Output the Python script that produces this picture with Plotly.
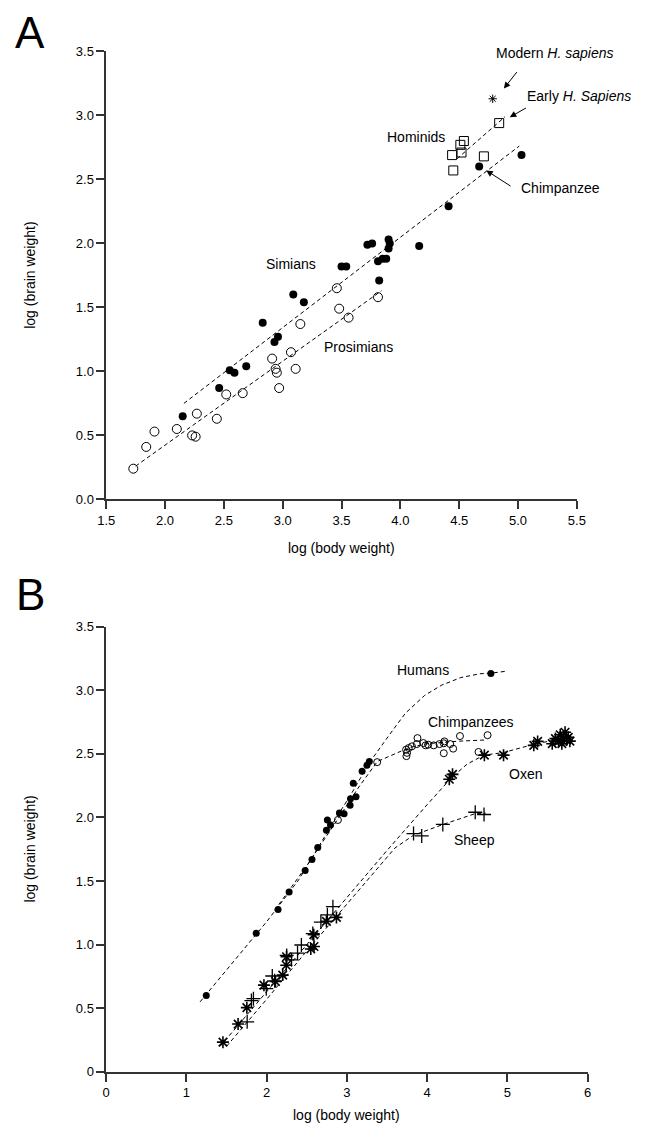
import plotly.graph_objects as go

FONT = "Liberation Sans, Arial, Helvetica, sans-serif"

# ---------------- Panel A data ----------------
pros_x = [1.73, 1.84, 1.91, 2.10, 2.23, 2.26, 2.27, 2.44, 2.52, 2.66, 2.91, 2.94, 2.95, 2.97,
          3.07, 3.11, 3.15, 3.46, 3.48, 3.56, 3.81]
pros_y = [0.24, 0.41, 0.53, 0.55, 0.50, 0.49, 0.67, 0.63, 0.82, 0.83, 1.10, 1.02, 0.99, 0.87,
          1.15, 1.02, 1.37, 1.65, 1.49, 1.42, 1.58]

sim_x = [2.15, 2.46, 2.55, 2.59, 2.69, 2.83, 2.93, 2.96, 3.09, 3.18, 3.50, 3.54, 3.72, 3.76,
         3.81, 3.85, 3.88, 3.90, 3.91, 3.90, 3.82, 4.16, 4.41, 4.67, 5.03]
sim_y = [0.65, 0.87, 1.01, 0.99, 1.04, 1.38, 1.23, 1.27, 1.60, 1.54, 1.82, 1.82, 1.99, 2.00,
         1.86, 1.88, 1.88, 2.03, 2.00, 1.96, 1.71, 1.98, 2.29, 2.60, 2.69]

hom_x = [4.84, 4.54, 4.51, 4.52, 4.44, 4.71, 4.45]
hom_y = [2.94, 2.80, 2.77, 2.71, 2.69, 2.68, 2.57]

modern_x = [4.785]
modern_y = [3.13]

sim_line_x = [2.16, 5.01]
sim_line_y = [0.75, 2.76]
pros_line_x = [1.75, 3.84]
pros_line_y = [0.26, 1.63]
hom_line_x = [4.48, 4.89]
hom_line_y = [2.66, 2.99]

a_xticks = [1.5, 2.0, 2.5, 3.0, 3.5, 4.0, 4.5, 5.0, 5.5]
a_yticks = [0.0, 0.5, 1.0, 1.5, 2.0, 2.5, 3.0, 3.5]
a_xticktext = ["1.5", "2.0", "2.5", "3.0", "3.5", "4.0", "4.5", "5.0", "5.5"]
a_yticktext = ["0.0", "0.5", "1.0", "1.5", "2.0", "2.5", "3.0", "3.5"]

# ---------------- Panel B data ----------------
hum_x = [1.247, 1.87, 2.142, 2.28, 2.48, 2.565, 2.637, 2.745, 2.757, 2.796, 2.907, 2.965,
         3.04, 3.045, 3.114, 3.08, 3.19, 3.25, 3.28, 4.795]
hum_y = [0.599, 1.09, 1.276, 1.414, 1.583, 1.67, 1.764, 1.90, 1.98, 1.94, 2.035, 2.029,
         2.095, 2.147, 2.163, 2.268, 2.363, 2.41, 2.44, 3.132]

chimp_x = [2.888, 3.378, 3.738, 3.75, 3.742, 3.771, 3.811, 3.872, 3.88, 3.953, 3.981, 4.014,
           4.082, 4.155, 4.208, 4.216, 4.208, 4.289, 4.325, 4.41, 4.754, 4.641]
chimp_y = [1.98, 2.435, 2.533, 2.508, 2.482, 2.546, 2.559, 2.577, 2.624, 2.585, 2.567, 2.572,
           2.567, 2.577, 2.583, 2.598, 2.505, 2.577, 2.541, 2.64, 2.647, 2.515]

ox_x = [1.455, 1.644, 1.753, 1.966, 2.11, 2.20, 2.244, 2.248, 2.55, 2.59, 2.587, 2.745, 2.87,
        4.277, 4.317, 4.714, 4.953, 5.33, 5.378, 5.56, 5.60, 5.64, 5.66, 5.70, 5.72, 5.74,
        5.76, 5.78, 5.68]
ox_y = [0.233, 0.375, 0.504, 0.681, 0.71, 0.76, 0.838, 0.904, 0.965, 0.985, 1.078, 1.183, 1.214,
        2.30, 2.339, 2.49, 2.49, 2.567, 2.598, 2.58, 2.62, 2.60, 2.65, 2.62, 2.67, 2.61,
        2.63, 2.60, 2.58]

sheep_x = [1.757, 1.81, 1.835, 1.995, 2.07, 2.10, 2.25, 2.31, 2.385, 2.433, 2.575, 2.676,
           2.757, 2.826, 3.831, 3.933, 4.196, 4.60, 4.71]
sheep_y = [0.393, 0.56, 0.575, 0.653, 0.753, 0.715, 0.915, 0.88, 0.933, 0.997, 1.087, 1.177,
           1.234, 1.298, 1.873, 1.855, 1.945, 2.041, 2.023]

hum_curve_x = [1.17, 1.6, 2.0, 2.4, 2.8, 3.05, 3.28, 3.53, 3.73, 3.97, 4.18, 4.42, 4.66, 4.8, 4.99]
hum_curve_y = [0.55, 0.88, 1.18, 1.51, 1.93, 2.18, 2.43, 2.65, 2.82, 2.96, 3.04, 3.10, 3.13, 3.135, 3.15]

chimp_curve_x = [2.10, 2.5, 2.89, 3.15, 3.38, 3.6, 3.78, 4.0, 4.4, 4.75]
chimp_curve_y = [1.27, 1.62, 1.99, 2.24, 2.44, 2.50, 2.55, 2.58, 2.60, 2.61]

ox_curve_x = [1.42, 2.0, 2.5, 3.0, 3.5, 4.0, 4.3, 4.5, 4.71, 4.95, 5.33, 5.6, 5.79]
ox_curve_y = [0.20, 0.63, 1.0, 1.37, 1.74, 2.10, 2.31, 2.42, 2.49, 2.51, 2.575, 2.61, 2.64]

sheep_curve_x = [1.50, 2.0, 2.5, 3.0, 3.4, 3.6, 3.83, 4.2, 4.6, 4.73]
sheep_curve_y = [0.20, 0.57, 0.95, 1.32, 1.62, 1.76, 1.86, 1.945, 2.03, 2.035]

b_xticks = [0, 1, 2, 3, 4, 5, 6]
b_yticks = [0, 0.5, 1.0, 1.5, 2.0, 2.5, 3.0, 3.5]
b_xticktext = ["0", "1", "2", "3", "4", "5", "6"]
b_yticktext = ["0", "0.5", "1.0", "1.5", "2.0", "2.5", "3.0", "3.5"]

W, H = 650, 1136
A_px = (100, 584, 45, 499)   # left, right, top, bottom in pixels
B_px = (100, 595, 628, 1079)


def dom_x(p):
    return [p[0] / W, p[1] / W]


def dom_y(p):
    return [1 - p[3] / H, 1 - p[2] / H]


fig = go.Figure()

DASH = "4px,3px"


def line(x, y, xa, ya):
    fig.add_trace(go.Scatter(x=x, y=y, mode="lines", xaxis=xa, yaxis=ya,
                             line=dict(color="black", width=1, dash=DASH),
                             hoverinfo="skip", showlegend=False))


def pts(x, y, xa, ya, symbol, size, color="black", lw=1.0):
    fig.add_trace(go.Scatter(x=x, y=y, mode="markers", xaxis=xa, yaxis=ya, cliponaxis=False,
                             marker=dict(symbol=symbol, size=size, color=color,
                                         line=dict(color="black", width=lw)),
                             showlegend=False))


# Panel A
line(sim_line_x, sim_line_y, "x", "y")
line(pros_line_x, pros_line_y, "x", "y")
line(hom_line_x, hom_line_y, "x", "y")
pts(pros_x, pros_y, "x", "y", "circle-open", 9, lw=1)
pts(sim_x, sim_y, "x", "y", "circle", 8, lw=0)
pts(hom_x, hom_y, "x", "y", "square-open", 9, lw=1)
pts(modern_x, modern_y, "x", "y", "asterisk-open", 7, lw=1)

# Panel B
line(hum_curve_x, hum_curve_y, "x2", "y2")
line(chimp_curve_x, chimp_curve_y, "x2", "y2")
line(ox_curve_x, ox_curve_y, "x2", "y2")
line(sheep_curve_x, sheep_curve_y, "x2", "y2")
pts(hum_x, hum_y, "x2", "y2", "circle", 7, lw=0)
pts(chimp_x, chimp_y, "x2", "y2", "circle-open", 7, lw=1)
pts(ox_x, ox_y, "x2", "y2", "asterisk-open", 10, lw=1.6)
pts(sheep_x, sheep_y, "x2", "y2", "cross-thin-open", 10, lw=1.3)

axis_common = dict(showgrid=False, zeroline=False, showline=True, linecolor="#333",
                   linewidth=1.5, ticks="outside", ticklen=8, tickwidth=1.5, tickcolor="#333",
                   tickfont=dict(family=FONT, size=13, color="black"), fixedrange=True)

fig.update_layout(
    width=W, height=H, margin=dict(l=0, r=0, t=0, b=0),
    paper_bgcolor="white", plot_bgcolor="white", showlegend=False,
    font=dict(family=FONT, color="black"),
    xaxis=dict(domain=dom_x(A_px), range=[1.5, 5.5], tickvals=a_xticks, ticktext=a_xticktext,
               anchor="y", **axis_common),
    yaxis=dict(domain=dom_y(A_px), range=[0, 3.5], tickvals=a_yticks, ticktext=a_yticktext,
               anchor="x", **axis_common),
    xaxis2=dict(domain=dom_x(B_px), range=[0, 6], tickvals=b_xticks, ticktext=b_xticktext,
                anchor="y2", **axis_common),
    yaxis2=dict(domain=dom_y(B_px), range=[0, 3.5], tickvals=b_yticks, ticktext=b_yticktext,
                anchor="x2", **axis_common),
)

LF = dict(family=FONT, size=14, color="black")
ann = []


def label(text, x, y, xa, ya, anchor="center"):
    ann.append(dict(text=text, x=x, y=y, xref=xa, yref=ya, showarrow=False,
                    xanchor=anchor, yanchor="middle", font=LF))


def arrow(hx, hy, tx, ty, xa, ya):
    ann.append(dict(text="", x=hx, y=hy, ax=tx, ay=ty, xref=xa, yref=ya, axref=xa, ayref=ya,
                    showarrow=True, arrowhead=2, arrowsize=1.3, arrowwidth=1,
                    arrowcolor="black", standoff=0, startstandoff=0))


# Panel A labels
label("Simians", 3.07, 1.84, "x", "y")
label("Prosimians", 3.64, 1.19, "x", "y")
label("Hominids", 4.135, 2.83, "x", "y")
label("Chimpanzee", 5.01, 2.43, "x", "y", "left")
label("Early <i>H. Sapiens</i>", 5.06, 3.15, "x", "y", "left")
label("Modern <i>H. sapiens</i>", 4.80, 3.49, "x", "y", "left")
arrow(4.88, 3.21, 5.0, 3.35, "x", "y")
arrow(4.93, 2.985, 5.08, 3.065, "x", "y")
arrow(4.73, 2.57, 4.95, 2.44, "x", "y")

# Panel B labels
label("Humans", 3.95, 3.16, "x2", "y2")
label("Chimpanzees", 4.55, 2.75, "x2", "y2")
label("Oxen", 5.23, 2.34, "x2", "y2")
label("Sheep", 4.59, 1.82, "x2", "y2")

# Axis titles and panel letters (paper coords)
TF = dict(family=FONT, size=14, color="black")


def ptext(text, px, py, size=14, angle=0):
    ann.append(dict(text=text, x=px / W, y=1 - py / H, xref="paper", yref="paper",
                    showarrow=False, xanchor="center", yanchor="middle", textangle=angle,
                    font=dict(family=FONT, size=size, color="black")))


ptext("log (body weight)", (A_px[0] + A_px[1]) / 2, 548)
ptext("log (brain weight)", 22, (A_px[2] + A_px[3]) / 2, angle=-90)
ptext("log (body weight)", (B_px[0] + B_px[1]) / 2, 1123)
ptext("log (brain weight)", 22, (B_px[2] + B_px[3]) / 2, angle=-90)
ptext("A", 22, 26, size=44)
ptext("B", 22, 595, size=44)

fig.update_layout(annotations=ann)
fig.write_html("out.html")
